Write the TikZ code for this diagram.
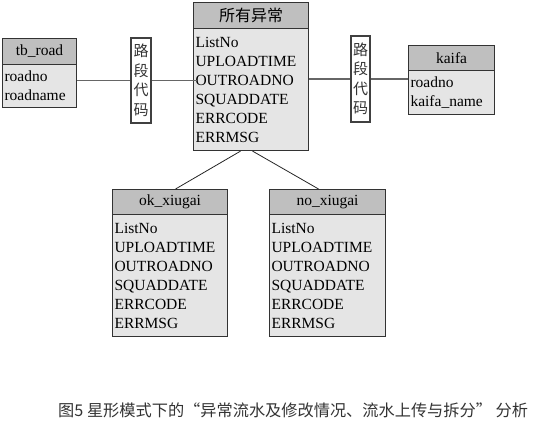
\documentclass[tikz,border=0pt]{standalone}
\usepackage{fontspec}
\setmainfont{Liberation Serif}
\newfontfamily\cjk{Noto Sans CJK SC}
\begin{document}
\begin{tikzpicture}[x=1pt,y=-1pt,
  hdr/.style={draw=black!80,line width=1.1pt,fill=black!25,anchor=north west,inner sep=0pt,
    font=\fontsize{15.5}{19}\selectfont},
  bodybox/.style={draw=black!80,line width=1.1pt,fill=black!10,anchor=north west,inner sep=2pt,
    align=left,font=\fontsize{15.5}{19}\selectfont},
  vlabel/.style={draw=black!75,line width=1.1pt,fill=white,inner sep=1pt,align=center,
    font=\cjk\fontsize{15}{19.5}\selectfont,text=black!80},
  thick link/.style={draw=black!60,line width=1.8pt},
  thin link/.style={draw=black!85,line width=0.8pt}]
\useasboundingbox (0,0) rectangle (533,423);
% tb_road
\node[hdr,minimum width=74pt,minimum height=26pt] (tbh) at (2,38) {tb\_road};
\node[bodybox,minimum width=74pt,minimum height=43pt,text width=70pt] (tbb) at (2,64) {roadno\\roadname};
% main table
\node[hdr,minimum width=115pt,minimum height=26pt,font=\cjk\fontsize{16}{19}\selectfont] (mh) at (193,2) {所有异常};
\node[bodybox,minimum width=115pt,minimum height=122pt,text width=111pt] (mb) at (193,28)
  {ListNo\\UPLOADTIME\\OUTROADNO\\SQUADDATE\\ERRCODE\\ERRMSG};
% kaifa
\node[hdr,minimum width=86pt,minimum height=25pt] (kh) at (408,45) {kaifa};
\node[bodybox,minimum width=86pt,minimum height=44pt,text width=82pt] (kb) at (408,70) {roadno\\kaifa\_name};
% ok_xiugai
\node[hdr,minimum width=115pt,minimum height=25pt] (oh) at (112,189) {ok\_xiugai};
\node[bodybox,minimum width=115pt,minimum height=122pt,text width=111pt] (ob) at (112,214)
  {ListNo\\UPLOADTIME\\OUTROADNO\\SQUADDATE\\ERRCODE\\ERRMSG};
% no_xiugai
\node[hdr,minimum width=116pt,minimum height=25pt] (nh) at (269,189) {no\_xiugai};
\node[bodybox,minimum width=116pt,minimum height=122pt,text width=112pt] (nb) at (269,214)
  {ListNo\\UPLOADTIME\\OUTROADNO\\SQUADDATE\\ERRCODE\\ERRMSG};
% relation labels
\node[vlabel,minimum width=20pt,minimum height=85pt] (l1) at (141,80.5) {路\\段\\代\\码};
\node[vlabel,minimum width=19pt,minimum height=86pt] (l2) at (360.5,79) {路\\段\\代\\码};
% connectors
\draw[thick link] (l1.west) -- (l1.west -| tbb.east);
\draw[thick link] (l1.east) -- ([xshift=4pt]l1.east -| mb.west);
\draw[thick link] (l2.west) -- (l2.west -| mb.east);
\draw[thick link] (l2.east) -- (l2.east -| kb.west);
\draw[thin link] ([xshift=-10.5pt]mb.south) -- ([xshift=5.5pt]oh.north);
\draw[thin link] ([xshift=1.5pt]mb.south) -- ([xshift=-9pt]nh.north);
% caption
\node[anchor=west,inner sep=0pt,font=\cjk\fontsize{16.2}{18}\selectfont,text=black!80] (cap) at (58,410)
  {图5 星形模式下的“异常流水及修改情况、流水上传与拆分” 分析};
\end{tikzpicture}
\end{document}
